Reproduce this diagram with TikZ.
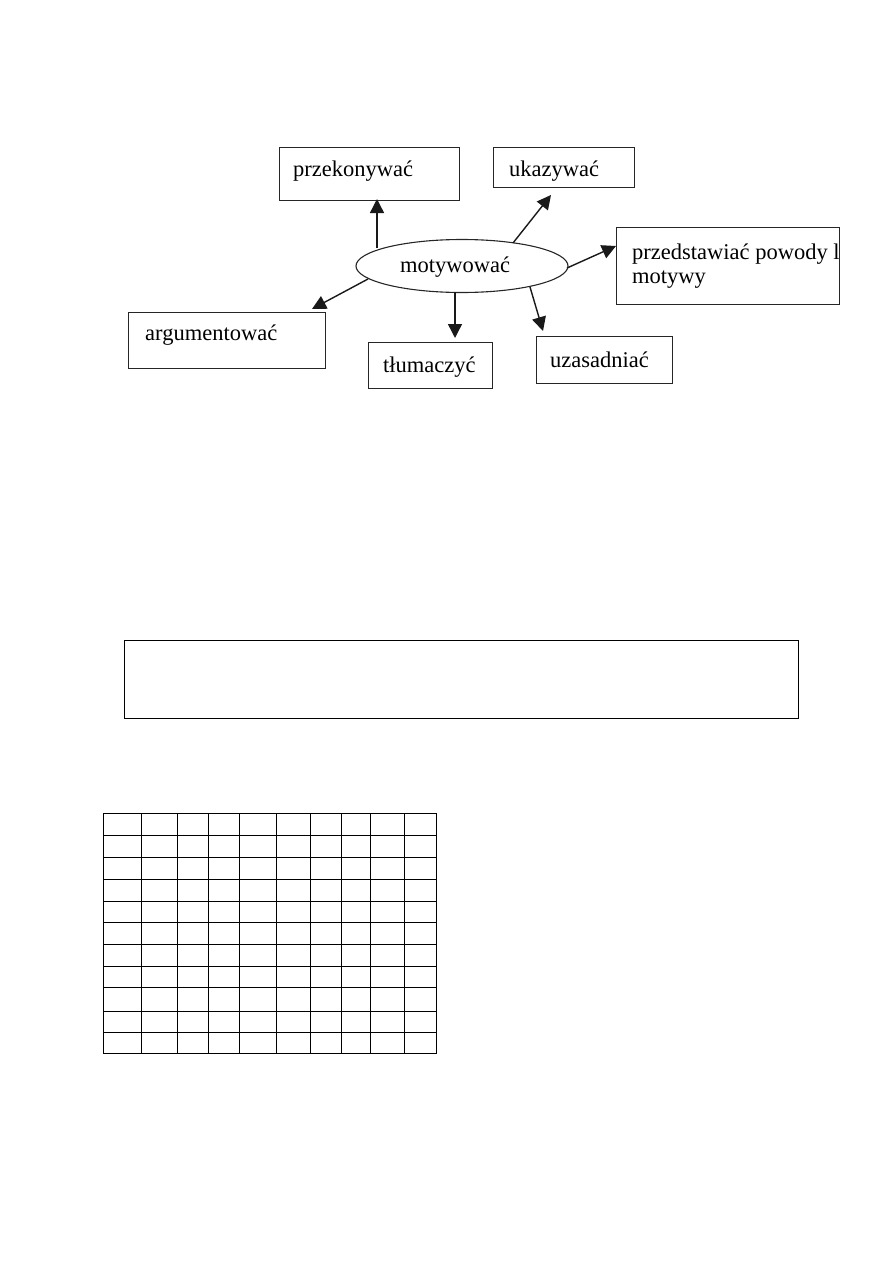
\documentclass[tikz,border=0pt]{standalone}
\usepackage{fontspec}
\setmainfont{Liberation Serif}
\usetikzlibrary{arrows.meta,shapes.geometric}
\begin{document}
\begin{tikzpicture}[x=1pt,y=-1pt,
  box/.style={draw=black!85,line width=1.1pt,rectangle,inner sep=0pt,anchor=north west},
  lbl/.style={anchor=base west,inner sep=0pt,font=\fontsize{22.5}{25}\selectfont},
  conn/.style={draw=black!90,line width=1.4pt,-{Triangle[length=14pt,width=14pt]}},
  frame/.style={draw=black,line width=1.4pt,rectangle,inner sep=0pt,anchor=north west},
  gridline/.style={draw=black,line width=1.5pt}]
\useasboundingbox (0,0) rectangle (893,1263);

% boxes
\node[box,minimum width=180pt,minimum height=53pt] (bP) at (279,147) {};
\node[box,minimum width=141pt,minimum height=40pt] (bU) at (493,147) {};
\node[box,minimum width=223pt,minimum height=77pt] (bR) at (616,227) {};
\node[box,minimum width=197pt,minimum height=56pt] (bA) at (128,312) {};
\node[box,minimum width=124pt,minimum height=46pt] (bT) at (368,342) {};
\node[box,minimum width=136pt,minimum height=47pt] (bZ) at (536,336) {};

% labels
\node[lbl] (tP) at (293,176) {przekonywać};
\node[lbl] (tU) at (509,176) {ukazywać};
\begin{scope}
  \clip (616,227) rectangle (839,304);
  \node[lbl] (tR1) at (632,259) {przedstawiać powody l};
\end{scope}
\node[lbl] (tR2) at (632,283) {motywy};
\node[lbl] (tA) at (145,340) {argumentować};
\node[lbl] (tT) at (383,372) {tłumaczyć};
\node[lbl] (tZ) at (550,367) {uzasadniać};

% central ellipse
\node[draw=black!85,line width=1.1pt,ellipse,minimum width=212pt,minimum height=53pt,inner sep=0pt] (m) at (462,266) {};
\node[lbl] (tM) at (400,272) {motywować};

% connector end points
\coordinate (sP) at (377,248);
\coordinate (eP) at (377,199);
\coordinate (sU) at (513,243);
\coordinate (eU) at (551,195);
\coordinate (sR) at (567,268);
\coordinate (eR) at (616,246);
\coordinate (sZ) at (530,287);
\coordinate (eZ) at (543,331);
\coordinate (sT) at (455,292);
\coordinate (eT) at (455,338);
\coordinate (sA) at (368,279);
\coordinate (eA) at (312,309);

\draw[conn] (sP) -- (eP);
\draw[conn] (sU) -- (eU);
\draw[conn] (sR) -- (eR);
\draw[conn] (sZ) -- (eZ);
\draw[conn] (sT) -- (eT);
\draw[conn] (sA) -- (eA);

% empty frame
\node[frame,minimum width=674pt,minimum height=78pt] (fr) at (124,640) {};

% grid
\foreach \x in {103.5,141.5,177.5,208.5,239.5,276.5,310.5,341.5,370.5,404.5,436.5}
  \draw[gridline] (\x,813.5) -- (\x,1053.5);
\foreach \y in {813.5,835.5,857.5,879.5,901.5,922.5,944.5,966.5,987.5,1011.5,1032.5,1053.5}
  \draw[gridline,line cap=rect] (103.5,\y) -- (436.5,\y);
\end{tikzpicture}
\end{document}
